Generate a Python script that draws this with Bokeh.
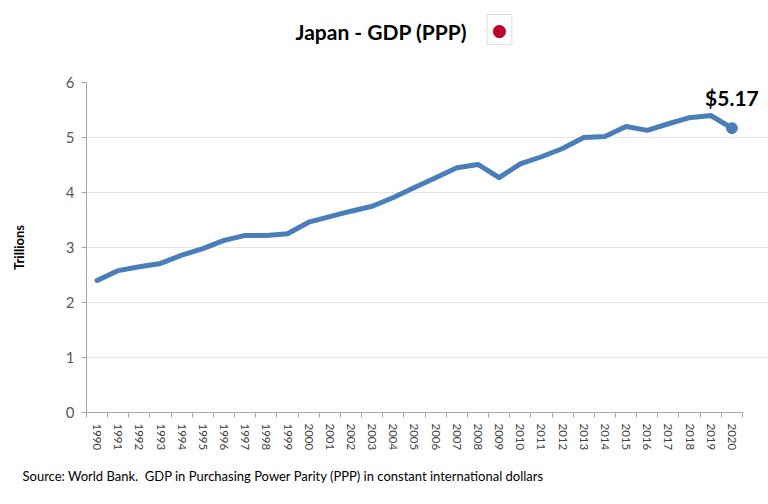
from bokeh.plotting import figure
from bokeh.layouts import column
from bokeh.models import Range1d, FixedTicker, Label, ColumnDataSource, Title
from bokeh.embed import file_html
from bokeh.resources import INLINE

# ---- data ----
years = list(range(1990, 2021))
gdp_trillions = [2.40, 2.58, 2.65, 2.71, 2.86, 2.98, 3.13, 3.22, 3.22, 3.25,
                 3.46, 3.56, 3.66, 3.75, 3.91, 4.09, 4.27, 4.45, 4.51, 4.27,
                 4.52, 4.65, 4.80, 5.00, 5.02, 5.20, 5.13, 5.25, 5.36, 5.40,
                 5.17]
y_ticks = [0, 1, 2, 3, 4, 5, 6]
title_text = "Japan - GDP (PPP)"
y_label = "Trillions"
source_text = "Source: World Bank.\u00a0 GDP in Purchasing Power Parity (PPP) in constant international dollars"
last_label = "$5.17"

LINE = "#4A7EBB"
FONT = "Lato"

# ---- header strip (title + flag) ----
head = figure(width=768, height=70, output_backend="svg", toolbar_location=None,
              x_range=Range1d(0, 682), y_range=Range1d(0, 70),
              x_axis_location=None, y_axis_location=None,
              min_border_left=86, min_border_right=0, min_border_top=0,
              min_border_bottom=0)
head.title.text = ""
head.outline_line_color = None
head.grid.grid_line_color = None
head.border_fill_color = "white"
head.background_fill_color = "white"
head.add_layout(Label(x=209, y=39, x_units="screen", y_units="screen",
                      text=title_text, text_align="left", text_baseline="middle",
                      text_font=FONT, text_font_size="21px",
                      text_font_style="bold", text_color="#000000"))
head.add_layout(Label(x=413, y=41, x_units="screen", y_units="screen",
                      text="\u25cf", text_align="center", text_baseline="middle",
                      text_font="DejaVu Sans", text_font_size="17px",
                      text_color="#BC002D", background_fill_color="white",
                      border_line_color="#dcdcdc", padding=5))

# ---- main chart ----
src = ColumnDataSource(dict(year=years, gdp=gdp_trillions))

x_lo, x_hi = years[0] - 0.5, years[-1] + 0.5
p = figure(width=768, height=434, output_backend="svg", toolbar_location=None,
           x_range=Range1d(x_lo, x_hi + 1.23), y_range=Range1d(0, 6),
           min_border_left=86, min_border_right=0, min_border_top=12,
           min_border_bottom=92)
p.title.text = ""
p.outline_line_color = None
p.background_fill_color = "white"
p.border_fill_color = "white"

p.line("year", "gdp", source=src, line_color=LINE, line_width=5,
       line_join="round", line_cap="round")
p.scatter(x=[years[-1]], y=[gdp_trillions[-1]], size=11, color=LINE)

# x axis
xa = p.xaxis[0]
xa.bounds = (x_lo, x_hi)
xa.ticker = FixedTicker(ticks=years, minor_ticks=[y - 0.5 for y in years] + [x_hi])
xa.major_label_orientation = "vertical"
xa.major_tick_out = 0
xa.major_tick_in = 0
xa.minor_tick_out = 5
xa.minor_tick_in = 0
xa.minor_tick_line_color = "#a6a6a6"
xa.axis_line_color = "#a6a6a6"
xa.major_label_text_font = FONT
xa.major_label_text_font_size = "11.5px"
xa.major_label_text_color = "#404040"
xa.major_label_standoff = 6

# y axis
ya = p.yaxis[0]
ya.bounds = (0, 6)
ya.ticker = FixedTicker(ticks=y_ticks)
ya.major_tick_out = 5
ya.major_tick_in = 0
ya.minor_tick_line_color = None
ya.major_tick_line_color = "#a6a6a6"
ya.axis_line_color = "#a6a6a6"
ya.major_label_text_font = FONT
ya.major_label_text_font_size = "15px"
ya.major_label_text_color = "#595959"
ya.major_label_standoff = 7
ya.axis_label = y_label
ya.axis_label_text_font = FONT
ya.axis_label_text_font_size = "13px"
ya.axis_label_text_font_style = "bold"
ya.axis_label_text_color = "#000000"
ya.axis_label_standoff = 36

p.xgrid.grid_line_color = None
p.ygrid.grid_line_color = "#e6e6e6"
p.ygrid.bounds = (x_lo, x_hi)

# end-point label
p.add_layout(Label(x=years[-1], y=gdp_trillions[-1], text=last_label,
                   x_offset=0, y_offset=18, text_align="center",
                   text_baseline="bottom", text_font=FONT,
                   text_font_size="21px", text_font_style="bold",
                   text_color="#000000"))

# source note
p.add_layout(Title(text=source_text, align="left", offset=-64, standoff=25,
                   text_font=FONT, text_font_size="13px",
                   text_font_style="normal", text_color="#000000"), "below")

layout = column(head, p, spacing=0)
open("out.html", "w").write(file_html(layout, INLINE))
